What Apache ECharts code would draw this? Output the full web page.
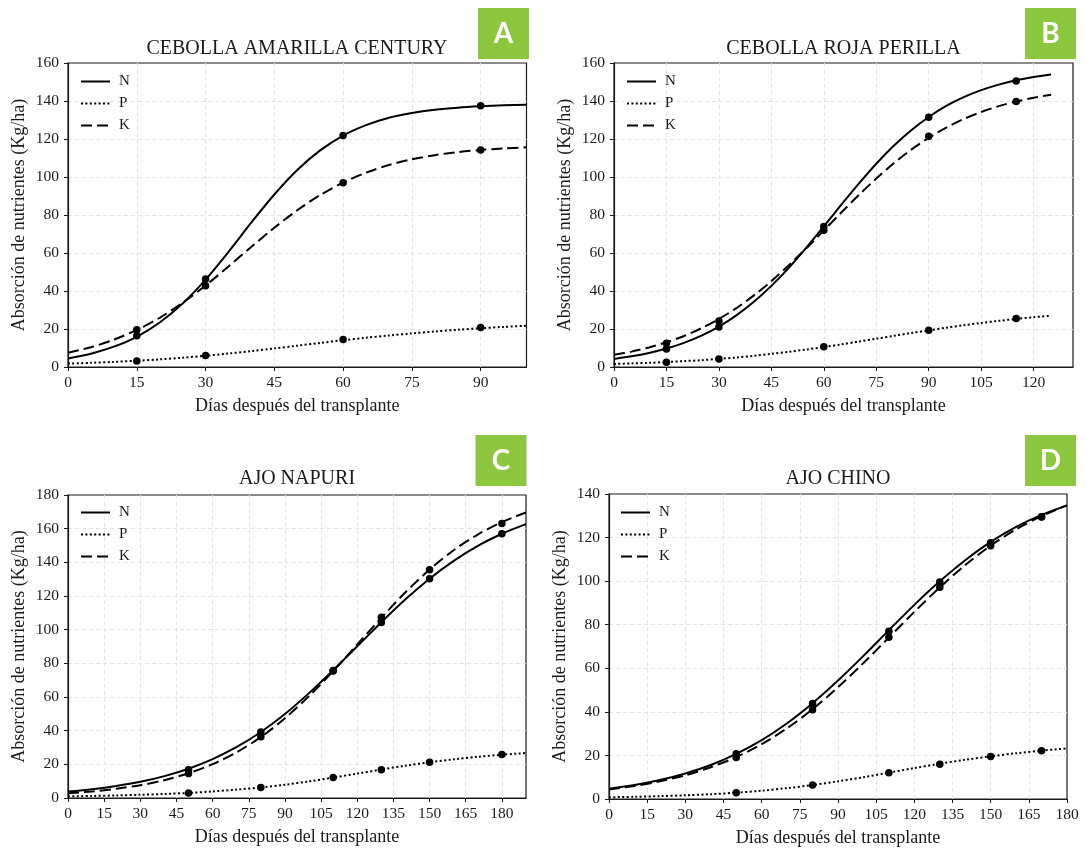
<!DOCTYPE html>
<html>
<head>
<meta charset="utf-8">
<script src="https://cdn.jsdelivr.net/npm/echarts@6/dist/echarts.min.js"></script>
<style>html,body{margin:0;padding:0;background:#fff}#c{width:1087px;height:848px}</style>
</head>
<body>
<div id="c"></div>
<script>
// ---- Data ----
// Panel A: CEBOLLA AMARILLA CENTURY
const daysA = [0,5,10,15,20,25,30,35,40,45,50,55,60,65,70,75,80,85,90,95,100];
const nA = [4.5,7.0,10.7,15.9,23.4,33.4,46.0,60.6,76.1,90.8,103.7,114.0,121.8,127.3,131.2,133.7,135.4,136.5,137.2,137.7,138.0];
const pA = [1.8,2.2,2.7,3.3,4.0,4.9,5.9,7.1,8.4,9.8,11.2,12.7,14.1,15.4,16.6,17.7,18.7,19.6,20.4,21.1,21.7];
const kA = [7.5,10.4,14.4,19.5,25.9,33.8,42.9,52.9,63.3,73.3,82.5,90.5,97.1,102.3,106.3,109.3,111.5,113.1,114.2,115.0,115.6];
const obsDaysA = [15,30,60,90];
const obsNA = [16.5,46.3,121.8,137.5];
const obsPA = [3.2,6.0,14.5,20.8];
const obsKA = [19.6,42.8,97.0,114.2];

// Panel B: CEBOLLA ROJA PERILLA
const daysB = [0,5,10,15,20,25,30,35,40,45,50,55,60,65,70,75,80,85,90,95,100,105,110,115,120,125];
const nB = [4.2,5.6,7.4,9.7,12.7,16.5,21.3,27.2,34.3,42.7,52.2,62.8,74.0,85.4,96.5,107.0,116.4,124.6,131.6,137.4,142.0,145.7,148.6,150.9,152.6,153.9];
const pB = [1.6,1.9,2.2,2.6,3.1,3.6,4.3,5.0,5.9,6.9,8.0,9.2,10.5,11.9,13.4,14.9,16.4,17.9,19.3,20.7,22.0,23.2,24.3,25.3,26.2,27.0];
const kB = [6.4,8.1,10.3,13.0,16.3,20.4,25.3,31.0,37.7,45.2,53.6,62.5,71.9,81.3,90.5,99.2,107.2,114.4,120.6,126.0,130.5,134.2,137.3,139.7,141.7,143.3];
const obsDaysB = [15,30,60,90,115];
const obsNB = [9.5,21.0,73.9,131.5,150.5];
const obsPB = [2.5,4.2,10.6,19.3,25.5];
const obsKB = [12.5,24.2,72.0,121.5,139.8];

// Panel C: AJO NAPURI
const daysC = [0,10,20,30,40,50,60,70,80,90,100,110,120,130,140,150,160,170,180,190];
const nC = [3.8,5.2,7.1,9.6,13.0,17.4,23.1,30.3,39.2,49.9,62.3,75.9,90.1,104.4,118.0,130.3,140.9,149.8,157.0,162.7];
const pC = [1.0,1.2,1.5,1.9,2.4,3.0,3.9,5.0,6.3,7.9,9.9,12.1,14.5,16.9,19.2,21.2,23.0,24.5,25.7,26.7];
const kC = [2.8,3.9,5.5,7.6,10.6,14.7,20.1,27.2,36.2,47.4,60.5,75.4,91.2,107.1,122.2,135.7,147.2,156.5,163.9,169.6];
const obsDaysC = [50,80,110,130,150,180];
const obsNC = [16.8,39.2,75.8,104.2,130.2,157.0];
const obsPC = [2.9,6.3,12.2,16.8,21.3,25.8];
const obsKC = [14.6,36.4,75.4,107.4,135.6,163.0];

// Panel D: AJO CHINO
const daysD = [0,10,20,30,40,50,60,70,80,90,100,110,120,130,140,150,160,170,180];
const nD = [4.7,6.4,8.7,11.7,15.6,20.7,27.0,34.8,44.0,54.4,65.7,77.5,89.1,99.9,109.6,118.0,124.9,130.4,134.8];
const pD = [0.8,1.0,1.3,1.7,2.2,2.9,3.8,5.0,6.4,8.1,10.0,12.1,14.2,16.2,18.0,19.6,21.0,22.2,23.2];
const kD = [4.4,6.0,8.1,10.9,14.6,19.2,25.2,32.5,41.2,51.3,62.4,74.1,85.9,97.1,107.4,116.3,123.8,129.9,134.8];
const obsDaysD = [50,80,110,130,150,170];
const obsND = [20.8,43.8,77.0,99.6,117.6,129.6];
const obsPD = [2.9,6.4,12.0,16.0,19.5,22.1];
const obsKD = [19.0,41.0,74.2,97.2,116.2,129.4];

const titles = ['CEBOLLA AMARILLA CENTURY','CEBOLLA ROJA PERILLA','AJO NAPURI','AJO CHINO'];
const badges = ['A','B','C','D'];
const seriesNames = ['N','P','K'];
const xName = 'Días después del transplante';
const yName = 'Absorción de nutrientes (Kg/ha)';

// ---- Layout / style ----
const SERIF = '"Liberation Serif","Times New Roman",serif';
const INK = '#1a1a1a';
const panels = [
  {grid:{left:68,top:63,width:458.5,height:304}, xMax:100, yMax:160, days:daysA, n:nA, p:pA, k:kA, od:obsDaysA, on:obsNA, op:obsPA, ok:obsKA,
   legend:{left:80,top:74}, title:[297,49], badge:[478,8]},
  {grid:{left:614,top:63,width:459,height:304}, xMax:131.25, yMax:160, days:daysB, n:nB, p:pB, k:kB, od:obsDaysB, on:obsNB, op:obsPB, ok:obsKB,
   legend:{left:626,top:74}, title:[843.5,49], badge:[1025,8]},
  {grid:{left:68,top:495,width:458,height:303}, xMax:190, yMax:180, days:daysC, n:nC, p:pC, k:kC, od:obsDaysC, on:obsNC, op:obsPC, ok:obsKC,
   legend:{left:80,top:505}, title:[297,479], badge:[475.5,435]},
  {grid:{left:609,top:494,width:458,height:305}, xMax:180, yMax:140, days:daysD, n:nD, p:pD, k:kD, od:obsDaysD, on:obsND, op:obsPD, ok:obsKD,
   legend:{left:620,top:505}, title:[838,479], badge:[1025,435]}
];

const zip = (xs, ys) => xs.map((x, i) => [x, ys[i]]);
const lineTypes = {N:'solid', P:[2,2.4], K:[11,5]};

const grids = [], xAxes = [], yAxes = [], series = [], legends = [], graphics = [];
panels.forEach((pn, i) => {
  grids.push(Object.assign({show:true, borderColor:INK, borderWidth:1.2, backgroundColor:'#fff'}, pn.grid));
  xAxes.push({
    gridIndex:i, type:'value', min:0, max:pn.xMax, interval:15,
    name:xName, nameLocation:'middle', nameGap:30,
    nameTextStyle:{fontFamily:SERIF, fontSize:18, color:INK},
    axisLine:{show:true, onZero:false, lineStyle:{color:INK, width:1.2}},
    axisTick:{show:true, length:4, lineStyle:{color:INK, width:1}},
    axisLabel:{fontFamily:SERIF, fontSize:15.5, color:INK, margin:8, showMinLabel:true, showMaxLabel: pn.xMax % 15 === 0},
    splitLine:{show:true, showMinLine:false, showMaxLine:false, lineStyle:{color:'#e4e4e4', width:1, type:[4,3]}}
  });
  yAxes.push({
    gridIndex:i, type:'value', min:0, max:pn.yMax, interval:20,
    name:yName, nameLocation:'middle', nameGap:40, nameRotate:90,
    nameTextStyle:{fontFamily:SERIF, fontSize:18, color:INK},
    axisLine:{show:true, onZero:false, lineStyle:{color:INK, width:1.2}},
    axisTick:{show:true, length:4, lineStyle:{color:INK, width:1}},
    axisLabel:{fontFamily:SERIF, fontSize:15.5, color:INK, margin:9, showMinLabel:true, showMaxLabel:true},
    splitLine:{show:true, showMinLine:false, showMaxLine:false, lineStyle:{color:'#e4e4e4', width:1, type:[4,3]}}
  });
  const curves = {N:pn.n, P:pn.p, K:pn.k};
  const obs = {N:pn.on, P:pn.op, K:pn.ok};
  seriesNames.forEach(nm => {
    series.push({
      name:nm, type:'line', xAxisIndex:i, yAxisIndex:i,
      data:zip(pn.days, curves[nm]), symbol:'none', showSymbol:false, smooth:0.3,
      lineStyle:{color:'#000', width:2, type:lineTypes[nm]}, itemStyle:{color:'#000'}, z:3
    });
  });
  seriesNames.forEach(nm => {
    series.push({
      name:nm + ' obs', type:'scatter', xAxisIndex:i, yAxisIndex:i,
      data:zip(pn.od, obs[nm]), symbol:'circle', symbolSize:7.5,
      itemStyle:{color:'#000', opacity:1}, z:4
    });
  });
  legends.push({
    data:seriesNames, orient:'vertical', left:pn.legend.left, top:pn.legend.top,
    itemWidth:29, itemHeight:14, itemGap:7, selectedMode:false, padding:0,
    itemStyle:{color:'rgba(0,0,0,0)', borderColor:'rgba(0,0,0,0)', borderWidth:0, opacity:0},
    lineStyle:{width:2},
    textStyle:{fontFamily:SERIF, fontSize:15, color:INK, padding:[0,0,0,4]}
  });
  graphics.push({
    type:'text', x:pn.title[0], y:pn.title[1],
    style:{text:titles[i], fontFamily:SERIF, fontSize:20, fill:INK, textAlign:'center', textVerticalAlign:'middle'}
  });
  graphics.push({
    type:'rect', shape:{x:pn.badge[0], y:pn.badge[1], width:51, height:51},
    style:{fill:'#8dc63f'}
  });
  graphics.push({
    type:'text', x:pn.badge[0] + 25.5, y:pn.badge[1] + 26,
    style:{text:badges[i], fontFamily:'Lato,"Open Sans",sans-serif', fontWeight:'bold', fontSize:28, fill:'#fff', textAlign:'center', textVerticalAlign:'middle'}
  });
});

const chart = echarts.init(document.getElementById('c'));
chart.setOption({
  animation:false,
  backgroundColor:'#fff',
  grid:grids, xAxis:xAxes, yAxis:yAxes, series:series, legend:legends,
  graphic:graphics
});
</script>
</body>
</html>
